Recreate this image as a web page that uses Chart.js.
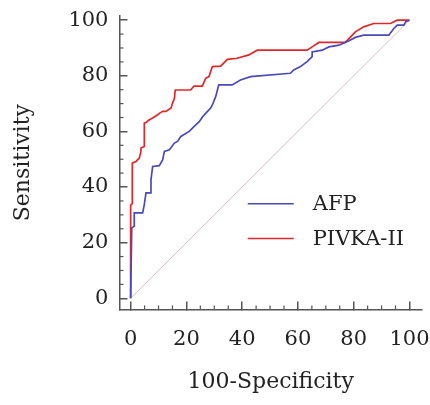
<!DOCTYPE html>
<html>
<head>
<meta charset="utf-8">
<script src="https://cdn.jsdelivr.net/npm/chart.js@4"></script>
<style>
  html, body { margin: 0; padding: 0; background: #fff; }
  #wrap { width: 430px; height: 405px; }
</style>
</head>
<body>
<div id="wrap"><canvas id="roc"></canvas></div>
<script>
const seriesNames = ['AFP', 'PIVKA-II'];

// 100-Specificity / Sensitivity
const afpX = [0, 0.4, 1.3, 1.3, 4.3, 4.9, 5.5, 7.3, 7.3, 7.9, 10.3, 11.5, 12.1, 13.9, 15.7, 16.8, 18, 21, 22.8, 24.6, 25.8, 26.9, 28.7, 29.3, 30.5, 31.6, 36.4, 39.4, 43, 57.3, 58.5, 60.9, 63.3, 65.1, 65.1, 68.7, 71.1, 74.7, 78.3, 80.6, 83.6, 92.6, 94.4, 95.6, 98, 98.6, 100];
const afpY = [0, 25.3, 25.9, 30.7, 30.7, 33.7, 37.9, 37.9, 42.7, 47.4, 47.7, 49.8, 52.8, 53.4, 55.8, 56.4, 58.2, 60, 61.8, 63.5, 65.3, 66.5, 68.4, 69.5, 72.5, 76.7, 76.7, 78.5, 79.7, 80.9, 82.1, 83.3, 85.1, 86.9, 88.6, 89.2, 90.4, 91, 92.6, 93.8, 94.6, 94.6, 97, 98.2, 98.2, 99.4, 100];

const pivkaX = [0, 0, 0.6, 0.6, 1.9, 3.1, 3.7, 3.7, 4.9, 4.9, 5.5, 6.7, 7.9, 9.7, 10.3, 11.5, 12.7, 14.5, 15, 15.7, 16, 21.5, 22.7, 25.7, 26.9, 28.1, 29.3, 32.3, 34.7, 38.2, 42.4, 45.4, 63.3, 65.1, 67.5, 77, 78.9, 80.6, 83.6, 87.2, 93.2, 95.6, 100];
const pivkaY = [0, 33.5, 34, 48.6, 49.2, 50.4, 52.8, 54, 54.6, 63, 63.2, 64.2, 64.8, 66, 66.5, 67.2, 67.2, 68.4, 70.1, 71.9, 74.9, 74.9, 76.3, 76.3, 79.1, 79.7, 83.3, 83.5, 85.9, 86.3, 87.5, 89.2, 89.2, 90.4, 92, 92, 94, 95.8, 97.6, 98.8, 98.8, 100, 100];

const diagX = [0, 100];
const diagY = [0, 100];

const tickValues = [0, 20, 40, 60, 80, 100];
const minorTickValues = [5, 10, 15, 25, 30, 35, 45, 50, 55, 65, 70, 75, 85, 90, 95];

const toPoints = (xs, ys) => xs.map((x, i) => ({ x, y: ys[i] }));

const serif = '"DejaVu Serif", "Liberation Serif", serif';
const axisColor = '#555';
const textColor = '#222';

// the edge labels should not push the plot area in
function noEdgePadding(s) {
  s.paddingLeft = 0;
  s.paddingRight = 0;
  s.paddingTop = 0;
  s.paddingBottom = 0;
}

// minor ticks on both axes and the legend box in the lower right
const extras = {
  id: 'extras',
  afterDraw(chart) {
    const ctx = chart.ctx;
    const xs = chart.scales.x, ys = chart.scales.y;
    const area = chart.chartArea;
    ctx.save();
    ctx.strokeStyle = axisColor;
    ctx.lineWidth = 1.2;
    minorTickValues.forEach(v => {
      const px = xs.getPixelForValue(v);
      ctx.beginPath();
      ctx.moveTo(px, area.bottom);
      ctx.lineTo(px, area.bottom - 4);
      ctx.stroke();
      const py = ys.getPixelForValue(v);
      ctx.beginPath();
      ctx.moveTo(area.left, py);
      ctx.lineTo(area.left + 4, py);
      ctx.stroke();
    });

    // legend
    const x0 = xs.getPixelForValue(42), x1 = xs.getPixelForValue(58.5);
    const rows = [ys.getPixelForValue(34), ys.getPixelForValue(21.5)];
    ctx.font = '21px ' + serif;
    ctx.textBaseline = 'middle';
    ctx.fillStyle = textColor;
    seriesNames.forEach((name, i) => {
      const ds = chart.data.datasets[i];
      ctx.strokeStyle = ds.borderColor;
      ctx.lineWidth = 1.6;
      ctx.beginPath();
      ctx.moveTo(x0, rows[i]);
      ctx.lineTo(x1, rows[i]);
      ctx.stroke();
      ctx.fillText(name, x1 + 19, rows[i] + 1);
    });
    ctx.restore();
  }
};

new Chart(document.getElementById('roc'), {
  type: 'scatter',
  data: {
    datasets: [
      {
        label: seriesNames[0],
        data: toPoints(afpX, afpY),
        showLine: true,
        borderColor: '#4a4ab8',
        borderWidth: 1.7,
        pointRadius: 0,
        tension: 0
      },
      {
        label: seriesNames[1],
        data: toPoints(pivkaX, pivkaY),
        showLine: true,
        borderColor: '#e0282c',
        borderWidth: 1.7,
        pointRadius: 0,
        tension: 0
      },
      {
        label: 'reference',
        data: toPoints(diagX, diagY),
        showLine: true,
        borderColor: 'rgba(205,160,170,0.7)',
        borderWidth: 1,
        pointRadius: 0
      }
    ]
  },
  options: {
    responsive: true,
    maintainAspectRatio: false,
    animation: false,
    layout: { padding: { left: 0, right: 8, top: 16, bottom: 0 } },
    plugins: {
      legend: { display: false },
      tooltip: { enabled: false }
    },
    scales: {
      x: {
        type: 'linear',
        min: -4,
        max: 104.5,
        afterBuildTicks: s => { s.ticks = tickValues.map(v => ({ value: v })); },
        afterFit: noEdgePadding,
        border: { display: true, color: axisColor, width: 1.5 },
        grid: { drawOnChartArea: false, drawTicks: true, tickLength: -8, color: axisColor, lineWidth: 1.5 },
        ticks: { padding: 26, color: textColor, font: { family: serif, size: 21 } },
        title: {
          display: true,
          text: '100-Specificity',
          color: textColor,
          font: { family: serif, size: 22 },
          padding: { top: -10, bottom: 10 }
        }
      },
      y: {
        type: 'linear',
        min: -4,
        max: 101.5,
        afterBuildTicks: s => { s.ticks = tickValues.map(v => ({ value: v })); },
        afterFit: noEdgePadding,
        border: { display: true, color: axisColor, width: 1.5 },
        grid: { drawOnChartArea: false, drawTicks: true, tickLength: -8, color: axisColor, lineWidth: 1.5 },
        ticks: { padding: 19, color: textColor, font: { family: serif, size: 21 } },
        title: {
          display: true,
          text: 'Sensitivity',
          color: textColor,
          font: { family: serif, size: 22 },
          padding: { top: 10, bottom: 13 }
        }
      }
    }
  },
  plugins: [extras]
});
</script>
</body>
</html>
